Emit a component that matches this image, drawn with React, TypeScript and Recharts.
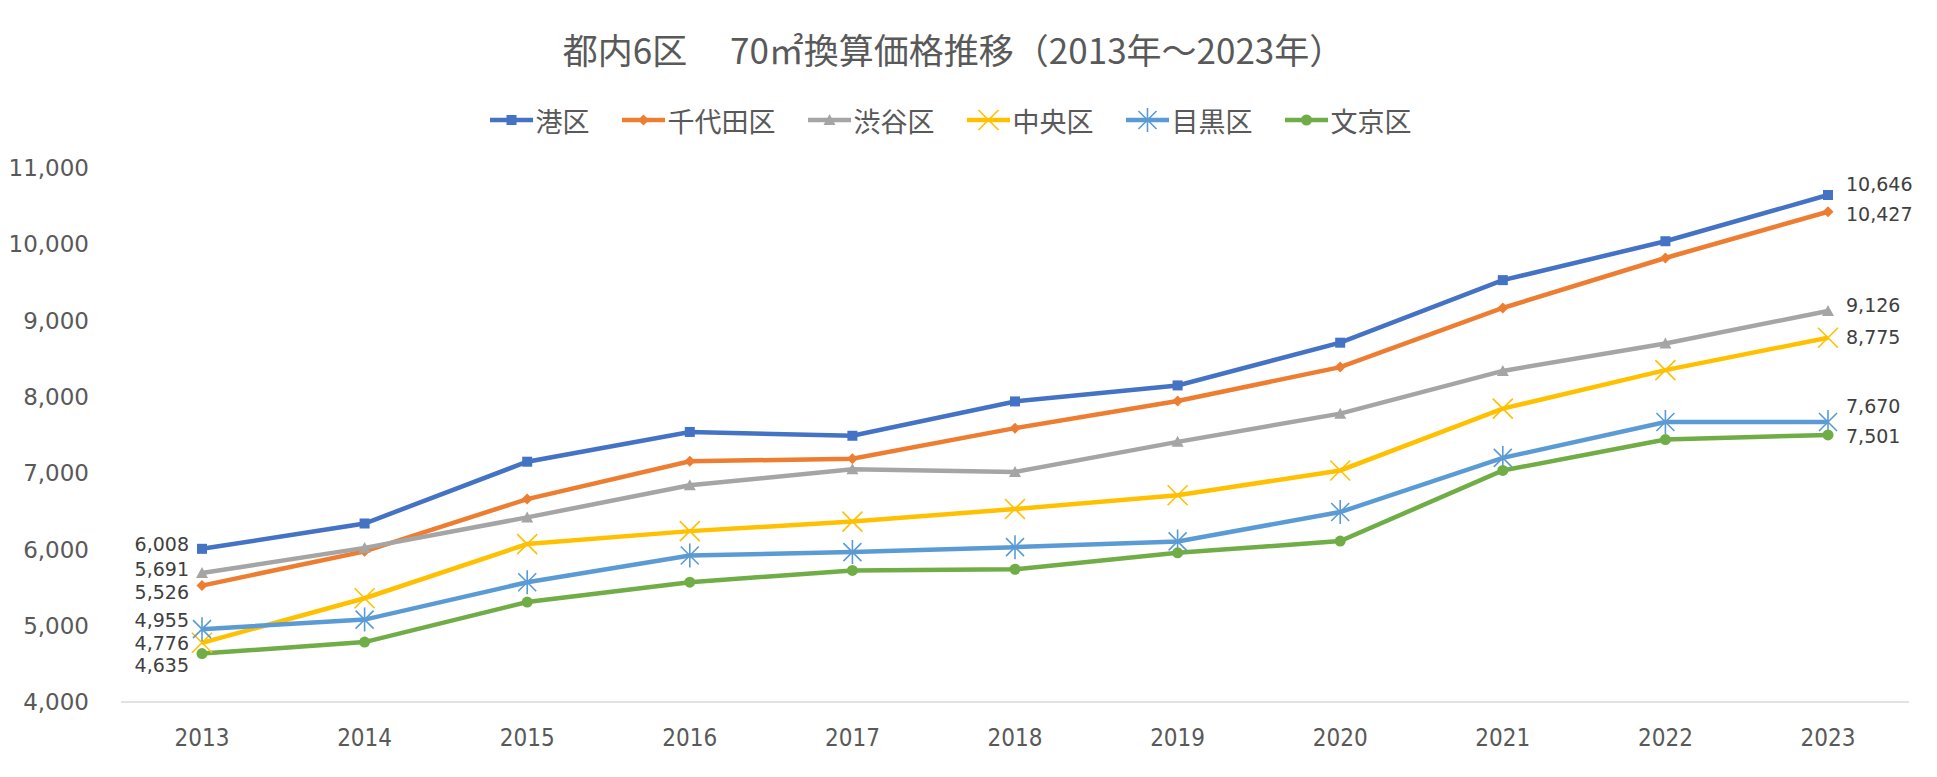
import React from 'react';
import { LineChart, Line, XAxis, YAxis, Legend, LabelList } from 'recharts';

// 年（カテゴリ）
const years = ['2013', '2014', '2015', '2016', '2017', '2018', '2019', '2020', '2021', '2022', '2023'];

// 各区の70㎡換算価格（万円）
const minato = [6008, 6340, 7150, 7540, 7490, 7940, 8150, 8710, 9530, 10040, 10646];
const chiyoda = [5526, 5975, 6660, 7155, 7190, 7590, 7945, 8390, 9165, 9820, 10427];
const shibuya = [5691, 6020, 6420, 6840, 7050, 7015, 7410, 7780, 8340, 8700, 9126];
const chuo = [4776, 5360, 6070, 6240, 6365, 6530, 6710, 7035, 7845, 8350, 8775];
const meguro = [4955, 5080, 5570, 5920, 5965, 6030, 6105, 6490, 7200, 7670, 7670];
const bunkyo = [4635, 4785, 5310, 5570, 5725, 5740, 5955, 6110, 7035, 7440, 7501];

const yTicks = [4000, 5000, 6000, 7000, 8000, 9000, 10000, 11000];

const data = years.map((year, i) => ({
  year,
  minato: minato[i],
  chiyoda: chiyoda[i],
  shibuya: shibuya[i],
  chuo: chuo[i],
  meguro: meguro[i],
  bunkyo: bunkyo[i],
}));

// dy: ラベルの上下ずらし [左端, 右端]
const series = [
  { key: 'minato', name: '港区', color: '#4472C4', marker: 'square', dy: [-5, -11] },
  { key: 'chiyoda', name: '千代田区', color: '#ED7D31', marker: 'diamond', dy: [6, 2] },
  { key: 'shibuya', name: '渋谷区', color: '#A5A5A5', marker: 'triangle', dy: [-4, -6] },
  { key: 'chuo', name: '中央区', color: '#FFC000', marker: 'x', dy: [0, -1] },
  { key: 'meguro', name: '目黒区', color: '#5B9BD5', marker: 'star', dy: [-9, -16] },
  { key: 'bunkyo', name: '文京区', color: '#70AD47', marker: 'circle', dy: [11, 1] },
];

const JP = '"Noto Sans CJK JP", "Noto Sans", sans-serif';
const NUM = '"DejaVu Sans", Verdana, sans-serif';
const COND = '"DejaVu Sans Condensed", "Liberation Sans Narrow", "DejaVu Sans", sans-serif';

function Marker({ type, cx, cy, color }: { type: string; cx: number; cy: number; color: string }) {
  switch (type) {
    case 'square':
      return <rect x={cx - 5} y={cy - 5} width={10} height={10} fill={color} />;
    case 'diamond':
      return <polygon points={`${cx},${cy - 5.5} ${cx + 5.5},${cy} ${cx},${cy + 5.5} ${cx - 5.5},${cy}`} fill={color} />;
    case 'triangle':
      return <polygon points={`${cx},${cy - 6} ${cx + 6},${cy + 5} ${cx - 6},${cy + 5}`} fill={color} />;
    case 'x':
      return (
        <path
          d={`M${cx - 10},${cy - 10}L${cx + 10},${cy + 10}M${cx + 10},${cy - 10}L${cx - 10},${cy + 10}`}
          stroke={color}
          strokeWidth={1.6}
          fill="none"
        />
      );
    case 'star':
      return (
        <path
          d={`M${cx - 9},${cy - 9}L${cx + 9},${cy + 9}M${cx + 9},${cy - 9}L${cx - 9},${cy + 9}M${cx},${cy - 12}L${cx},${cy + 12}`}
          stroke={color}
          strokeWidth={1.6}
          fill="none"
        />
      );
    default:
      return <circle cx={cx} cy={cy} r={5.5} fill={color} />;
  }
}

const renderLegend = () => (
  <div
    style={{
      display: 'flex',
      justifyContent: 'center',
      alignItems: 'center',
      gap: 32,
      height: 40,
      paddingRight: 36,
      fontFamily: JP,
      fontSize: 27,
      color: '#595959',
    }}
  >
    {series.map((s) => (
      <div key={s.key} style={{ display: 'flex', alignItems: 'center' }}>
        <svg width={43} height={26}>
          <line x1={0} y1={13} x2={43} y2={13} stroke={s.color} strokeWidth={4.5} />
          <Marker type={s.marker} cx={21.5} cy={13} color={s.color} />
        </svg>
        <span style={{ marginLeft: 3 }}>{s.name}</span>
      </div>
    ))}
  </div>
);

export default function App() {
  const last = years.length - 1;
  return (
    <div style={{ position: 'absolute', left: 0, top: 0, width: 1937, height: 777, background: '#fff' }}>
      <div
        style={{
          position: 'absolute',
          top: 29,
          left: 0,
          width: 1937,
          paddingRight: 30,
          boxSizing: 'border-box',
          textAlign: 'center',
          fontFamily: JP,
          fontSize: 35,
          lineHeight: '40px',
          color: '#595959',
          whiteSpace: 'pre',
          zIndex: 2,
        }}
      >
        都内6区　 70㎡換算価格推移（2013年～2023年）
      </div>
      <LineChart width={1937} height={777} data={data} margin={{ top: 128, right: 28, left: 0, bottom: 15 }}>
        <XAxis
          dataKey="year"
          interval={0}
          padding={{ left: 81, right: 81 }}
          axisLine={{ stroke: '#D9D9D9', strokeWidth: 1.5 }}
          tickLine={false}
          tickMargin={21}
          height={60}
          tick={{ fill: '#595959', fontSize: 24, fontFamily: COND, fontStretch: 'condensed' }}
        />
        <YAxis
          type="number"
          domain={[4000, 11000]}
          ticks={yTicks}
          width={121}
          axisLine={false}
          tickLine={false}
          tickMargin={26}
          tickFormatter={(v: number) => v.toLocaleString('en-US')}
          tick={{ fill: '#595959', fontSize: 23, fontFamily: NUM }}
        />
        <Legend verticalAlign="top" content={renderLegend} wrapperStyle={{ top: 100, left: 0, width: 1937 }} />
        {series.map((s) => (
          <Line
            key={s.key}
            dataKey={s.key}
            name={s.name}
            stroke={s.color}
            strokeWidth={4.5}
            isAnimationActive={false}
            dot={(p: any) => <Marker key={`${s.key}-${p.index}`} type={s.marker} cx={p.cx} cy={p.cy} color={s.color} />}
            activeDot={false}
          >
            <LabelList
              dataKey={s.key}
              content={(p: any) => {
                if (p.index !== 0 && p.index !== last) return null;
                const left = p.index === 0;
                return (
                  <text
                    x={left ? p.x - 13 : p.x + 18}
                    y={p.y + (left ? s.dy[0] : s.dy[1])}
                    textAnchor={left ? 'end' : 'start'}
                    dominantBaseline="central"
                    fontFamily={NUM}
                    fontSize={19}
                    fill="#404040"
                  >
                    {Number(p.value).toLocaleString('en-US')}
                  </text>
                );
              }}
            />
          </Line>
        ))}
      </LineChart>
    </div>
  );
}
